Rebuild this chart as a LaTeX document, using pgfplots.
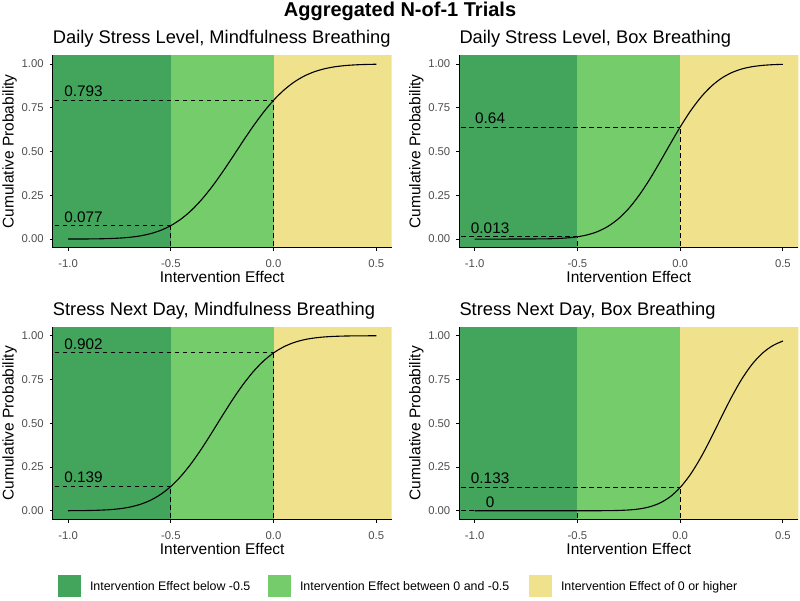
\documentclass[border=0pt]{standalone}
\usepackage{pgfplots}
\usepackage{pgfplotstable}
\pgfplotsset{compat=1.18}
\usepackage{fontspec}
\setmainfont{Liberation Sans}

\definecolor{darkg}{RGB}{67,165,91}
\definecolor{lightg}{RGB}{116,205,106}
\definecolor{khakiy}{RGB}{240,226,140}
\definecolor{gray30}{RGB}{77,77,77}

\newcommand{\ticksize}{\fontsize{11.3}{13}\selectfont}
\newcommand{\labsize}{\fontsize{15.5}{18}\selectfont}
\newcommand{\subsize}{\fontsize{18.3}{22}\selectfont}
\newcommand{\annsize}{\fontsize{15.3}{18}\selectfont}

% cumulative probability of the intervention effect
% columns: effect, then one column for each outcome/technique pair
\pgfplotstableread{
x     dsmind dsbox  sndmind sndbox
-1.00 0.0001 0.0000 0.0003  0.0000
-0.95 0.0003 0.0000 0.0006  0.0000
-0.90 0.0006 0.0000 0.0014  0.0000
-0.85 0.0014 0.0000 0.0030  0.0000
-0.80 0.0028 0.0001 0.0060  0.0000
-0.75 0.0054 0.0002 0.0115  0.0000
-0.70 0.0101 0.0006 0.0209  0.0000
-0.65 0.0179 0.0013 0.0362  0.0000
-0.60 0.0305 0.0030 0.0594  0.0000
-0.55 0.0495 0.0065 0.0931  0.0000
-0.50 0.0770 0.0130 0.1390  0.0000
-0.45 0.1147 0.0246 0.1987  0.0001
-0.40 0.1640 0.0437 0.2713  0.0002
-0.35 0.2257 0.0735 0.3553  0.0007
-0.30 0.2984 0.1166 0.4471  0.0018
-0.25 0.3802 0.1752 0.5418  0.0045
-0.20 0.4677 0.2498 0.6339  0.0104
-0.15 0.5569 0.3383 0.7190  0.0221
-0.10 0.6435 0.4372 0.7933  0.0434
-0.05 0.7231 0.5398 0.8545  0.0788
 0.00 0.7930 0.6400 0.9020  0.1330
 0.05 0.8508 0.7314 0.9371  0.2078
 0.10 0.8970 0.8092 0.9616  0.3033
 0.15 0.9318 0.8714 0.9776  0.4146
 0.20 0.9567 0.9180 0.9876  0.5335
 0.25 0.9736 0.9505 0.9935  0.6492
 0.30 0.9847 0.9719 0.9967  0.7527
 0.35 0.9915 0.9849 0.9985  0.8370
 0.40 0.9955 0.9923 0.9993  0.8999
 0.45 0.9977 0.9964 0.9997  0.9431
 0.50 0.9989 0.9984 0.9999  0.9700
}\cdf

\pgfplotsset{
  panel/.style={
    scale only axis, width=339pt, height=192.5pt,
    anchor=north west,
    xmin=-1.075, xmax=0.575, ymin=-0.05, ymax=1.05,
    axis x line*=bottom, axis y line*=left,
    axis line style={black, line width=1pt},
    tick align=outside, major tick length=3pt,
    every tick/.style={black, line width=1pt},
    xtick={-1,-0.5,0,0.5}, ytick={0,0.25,0.5,0.75,1},
    ticklabel style={font=\ticksize, text=gray30},
    xticklabel style={yshift=-5.5pt, /pgf/number format/fixed, /pgf/number format/fixed zerofill,
      /pgf/number format/precision=1, /pgf/number format/assume math mode=true},
    yticklabel style={xshift=-2.5pt, /pgf/number format/fixed, /pgf/number format/fixed zerofill,
      /pgf/number format/precision=2, /pgf/number format/assume math mode=true},
    xlabel={Intervention Effect}, ylabel={Cumulative Probability},
    label style={font=\labsize, inner sep=0pt},
    xlabel style={at={(axis description cs:0.5,-0.1818)}, anchor=base},
    ylabel style={at={(axis description cs:-0.1150,0.5)}, anchor=base},
    axis on top, clip=true,
  },
  cdfline/.style={black, line width=1.1pt, smooth, no markers},
  guide/.style={black, line width=1.05pt, dash pattern=on 4.6pt off 3.4pt, no markers},
}

% background bands for the three effect ranges
\newcommand{\bands}{%
  \addplot[fill=darkg, draw=none] coordinates {(-2,-1) (-0.5,-1) (-0.5,2) (-2,2)} -- cycle;
  \addplot[fill=lightg, draw=none] coordinates {(-0.5,-1) (0,-1) (0,2) (-0.5,2)} -- cycle;
  \addplot[fill=khakiy, draw=none] coordinates {(0,-1) (2,-1) (2,2) (0,2)} -- cycle;
}
% dashed guides at -0.5 and 0 with their probabilities
\newcommand{\guides}[2]{%
  \addplot[guide] coordinates {(-2,#1) (-0.5,#1)};
  \addplot[guide] coordinates {(-0.5,-1) (-0.5,#1)};
  \addplot[guide] coordinates {(-2,#2) (0,#2)};
  \addplot[guide] coordinates {(0,-1) (0,#2)};
}

\begin{document}
\begin{tikzpicture}
\useasboundingbox (0pt,0pt) rectangle (800pt,-600pt);

\node[anchor=base, inner sep=0pt, font=\fontsize{20}{24}\selectfont\bfseries] at (400pt,-16.8pt) {Aggregated N-of-1 Trials};

\node[anchor=base west, inner sep=0pt, font=\subsize] at (52.7pt,-43.5pt) {Daily Stress Level, Mindfulness Breathing};
\node[anchor=base west, inner sep=0pt, font=\subsize] at (459.3pt,-43.5pt) {Daily Stress Level, Box Breathing};
\node[anchor=base west, inner sep=0pt, font=\subsize] at (52.7pt,-315.8pt) {Stress Next Day, Mindfulness Breathing};
\node[anchor=base west, inner sep=0pt, font=\subsize] at (459.3pt,-315.8pt) {Stress Next Day, Box Breathing};

\begin{axis}[panel, at={(52.7pt,-55.3pt)}]
  \bands
  \guides{0.077}{0.793}
  \addplot[cdfline] table[x=x, y=dsmind] {\cdf};
  \node[anchor=base, inner sep=0pt, yshift=3.5pt, font=\annsize] at (axis cs:-0.925,0.077) {0.077};
  \node[anchor=base, inner sep=0pt, yshift=3.5pt, font=\annsize] at (axis cs:-0.925,0.793) {0.793};
\end{axis}

\begin{axis}[panel, at={(459.3pt,-55.3pt)}]
  \bands
  \guides{0.013}{0.64}
  \addplot[cdfline] table[x=x, y=dsbox] {\cdf};
  \node[anchor=base, inner sep=0pt, yshift=3.5pt, font=\annsize] at (axis cs:-0.925,0.013) {0.013};
  \node[anchor=base, inner sep=0pt, yshift=3.5pt, font=\annsize] at (axis cs:-0.925,0.64) {0.64};
\end{axis}

\begin{axis}[panel, at={(52.7pt,-327pt)}]
  \bands
  \guides{0.139}{0.902}
  \addplot[cdfline] table[x=x, y=sndmind] {\cdf};
  \node[anchor=base, inner sep=0pt, yshift=3.5pt, font=\annsize] at (axis cs:-0.925,0.139) {0.139};
  \node[anchor=base, inner sep=0pt, yshift=3.5pt, font=\annsize] at (axis cs:-0.925,0.902) {0.902};
\end{axis}

\begin{axis}[panel, at={(459.3pt,-327pt)}]
  \bands
  \guides{0}{0.133}
  \addplot[cdfline] table[x=x, y=sndbox] {\cdf};
  \node[anchor=base, inner sep=0pt, yshift=3.5pt, font=\annsize] at (axis cs:-0.925,0) {0};
  \node[anchor=base, inner sep=0pt, yshift=3.5pt, font=\annsize] at (axis cs:-0.925,0.133) {0.133};
\end{axis}

% legend
\begin{scope}[font=\fontsize{12.4}{15}\selectfont]
  \fill[darkg] (58.3pt,-575pt) rectangle ++(22.4pt,-22.4pt);
  \node[anchor=base west, inner sep=0pt] at (89.8pt,-590.7pt) {Intervention Effect below -0.5};
  \fill[lightg] (268.3pt,-575pt) rectangle ++(22.4pt,-22.4pt);
  \node[anchor=base west, inner sep=0pt] at (299.8pt,-590.7pt) {Intervention Effect between 0 and -0.5};
  \fill[khakiy] (529.3pt,-575pt) rectangle ++(22.4pt,-22.4pt);
  \node[anchor=base west, inner sep=0pt] at (560.8pt,-590.7pt) {Intervention Effect of 0 or higher};
\end{scope}
\end{tikzpicture}
\end{document}
